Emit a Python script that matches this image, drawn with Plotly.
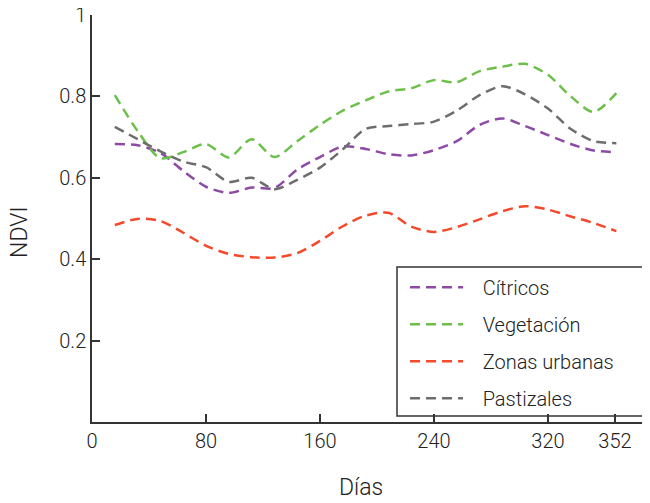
import plotly.graph_objects as go

days = [16 * k for k in range(1, 24)]

citricos = [0.683, 0.680, 0.661, 0.617, 0.578, 0.563, 0.576, 0.575, 0.620, 0.651, 0.677, 0.671,
            0.658, 0.655, 0.668, 0.690, 0.730, 0.746, 0.727, 0.705, 0.683, 0.667, 0.663]
vegetacion = [0.803, 0.715, 0.648, 0.663, 0.683, 0.650, 0.695, 0.651, 0.690, 0.730, 0.765, 0.790,
              0.812, 0.820, 0.840, 0.835, 0.862, 0.873, 0.880, 0.853, 0.800, 0.762, 0.808]
urbanas = [0.484, 0.499, 0.494, 0.465, 0.433, 0.413, 0.405, 0.404, 0.415, 0.445, 0.481, 0.507,
           0.514, 0.480, 0.467, 0.479, 0.498, 0.518, 0.530, 0.522, 0.505, 0.489, 0.469]
pastizales = [0.725, 0.695, 0.665, 0.640, 0.626, 0.590, 0.600, 0.572, 0.595, 0.625, 0.670, 0.720,
              0.727, 0.732, 0.738, 0.765, 0.803, 0.825, 0.805, 0.770, 0.720, 0.690, 0.685]

series_names = ["Cítricos", "Vegetación", "Zonas urbanas", "Pastizales"]
series_values = [citricos, vegetacion, urbanas, pastizales]
colors = ["#8e4ba6", "#6cc04a", "#f4492a", "#6d6d6d"]

x_tickvals = [0, 80, 160, 240, 320, 367]
x_ticktext = ["0", "80", "160", "240", "320", "352"]
y_tickvals = [0.2, 0.4, 0.6, 0.8, 1.0]
y_ticktext = ["0.2", "0.4", "0.6", "0.8", "1"]

FONT = "Roboto"
TXT = "#222222"
PAD = "\u00a0\u00a0\u00a0"

fig = go.Figure()
for i, (name, vals, col) in enumerate(zip(series_names, series_values, colors)):
    fig.add_trace(go.Scatter(
        x=days, y=vals, name=PAD + name, mode="lines", legendgroup=f"g{i}",
        line=dict(color=col, width=2.5, dash="10px,6px", shape="spline", smoothing=0.8),
    ))

# page body has an 8px margin: compensate so the plot sits where the reference has it
fig.update_layout(
    width=642, height=495,
    margin=dict(l=84, r=0, t=7, b=81),
    paper_bgcolor="white", plot_bgcolor="white",
    font=dict(family=FONT, size=20, color=TXT, weight=300),
    showlegend=True,
    legend=dict(
        x=0.561, y=0.379, xanchor="left", yanchor="top",
        borderwidth=0, bgcolor="rgba(0,0,0,0)",
        font=dict(family=FONT, size=20, color=TXT, weight=300),
        itemwidth=53, tracegroupgap=8,
    ),
    shapes=[
        dict(type="rect", xref="paper", yref="paper",
             x0=0.5466, x1=1.01, y0=0.0147, y1=0.381,
             line=dict(color="#333333", width=1.5), fillcolor="white", layer="below"),
    ],
    xaxis=dict(
        range=[0, 391.6], showgrid=False, zeroline=False, automargin=False,
        showline=True, linecolor="#333333", linewidth=1.5,
        ticks="inside", ticklen=8, tickcolor="#333333", tickwidth=1.5,
        tickvals=x_tickvals, ticktext=x_ticktext, ticklabeloverflow="allow",
        tickfont=dict(family=FONT, size=20, color=TXT, weight=300),
    ),
    yaxis=dict(
        range=[0, 1], showgrid=False, zeroline=False, automargin=False,
        showline=True, linecolor="#333333", linewidth=1.5,
        ticks="inside", ticklen=8, tickcolor="#333333", tickwidth=1.5,
        tickvals=y_tickvals, ticktext=y_ticktext, ticklabeloverflow="allow",
        tickfont=dict(family=FONT, size=20, color=TXT, weight=300),
    ),
    annotations=[
        dict(text="Días", xref="paper", yref="paper", x=0.482, y=-0.162,
             showarrow=False, xanchor="center", yanchor="middle",
             font=dict(family=FONT, size=23, color=TXT, weight=300)),
        dict(text="NDVI", xref="paper", yref="paper", x=-0.1290, y=0.467,
             showarrow=False, xanchor="center", yanchor="middle", textangle=-90,
             font=dict(family=FONT, size=23, color=TXT, weight=300)),
    ],
)

fig.write_html("out.html")
